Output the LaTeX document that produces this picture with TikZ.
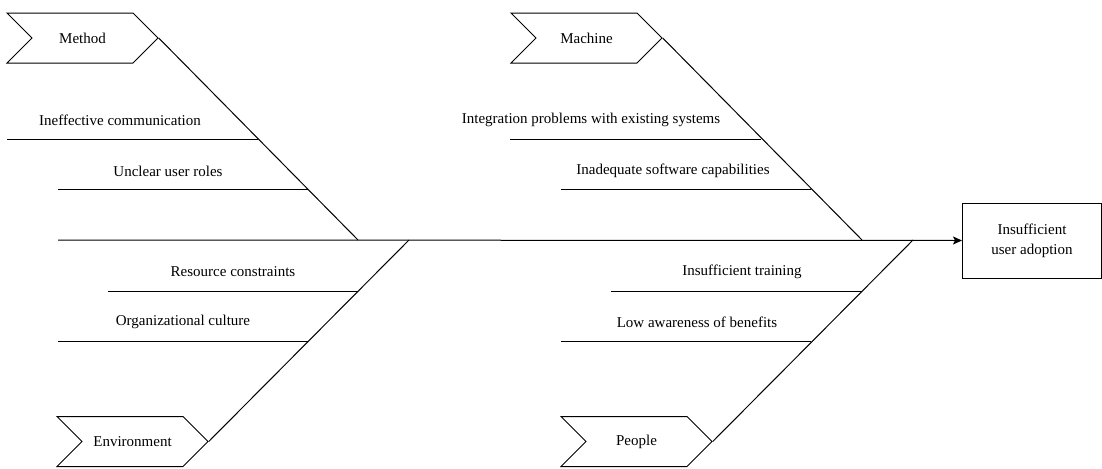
\documentclass[tikz,border=0pt]{standalone}
\usepackage{fontspec}
\setmainfont{Liberation Serif}
\usetikzlibrary{arrows.meta,shapes.symbols}

\begin{document}
\begin{tikzpicture}[x=0.75pt,y=-0.75pt,
    font=\fontsize{11.25}{15}\selectfont,
    line width=0.75pt,
    cat/.style={draw,signal,signal from=west,signal to=east,
      minimum width=113.25pt,minimum height=37.5pt,inner sep=0pt},
    effectbox/.style={draw,minimum width=104.25pt,minimum height=56.25pt,
      align=center,inner sep=0pt},
    lbl/.style={inner sep=0pt},
    arr/.style={-{Stealth[length=6.75pt,width=6pt,inset=1.5pt]}}
  ]
  \useasboundingbox (0,0) rectangle (1102,468);

  % head and spine
  \node[effectbox] (effect) at (1032,240.5) {Insufficient\\user adoption};
  \coordinate (tail) at (58,240);
  \draw[arr] (tail) -- (effect.west);

  % categories
  \node[cat] (method) at (82.5,38) {Method};
  \node[cat] (environment) at (132.5,441.5) {Environment};
  \node[cat] (machine) at (586.5,38) {Machine};
  \node[cat] (people) at (636.5,441.5) {People};

  \coordinate (jmethod) at (358,240);
  \coordinate (jenvironment) at (409,240);
  \coordinate (jmachine) at (862,240);
  \coordinate (jpeople) at (913,240);
  \draw (method.east) -- (jmethod);
  \draw (environment.east) -- (jenvironment);
  \draw (machine.east) -- (jmachine);
  \draw (people.east) -- (jpeople);

  % causes, left half
  \coordinate (a1) at (7,139);   \coordinate (b1) at (258,139);
  \coordinate (a2) at (58,189);  \coordinate (b2) at (308,189);
  \coordinate (a3) at (108,291); \coordinate (b3) at (358,291);
  \coordinate (a4) at (58,341);  \coordinate (b4) at (308,341);
  \draw (a1) -- (b1);
  \draw (a2) -- (b2);
  \draw (a3) -- (b3);
  \draw (a4) -- (b4);
  \node[lbl] (comm) at (120,120) {Ineffective communication};
  \node[lbl] (roles) at (168,171) {Unclear user roles};
  \node[lbl] (resources) at (233,272) {Resource constraints};
  \node[lbl] (culture) at (183,322) {Organizational culture};

  % causes, right half
  \coordinate (a5) at (510,139); \coordinate (b5) at (761,139);
  \coordinate (a6) at (561,189); \coordinate (b6) at (811,189);
  \coordinate (a7) at (611,291); \coordinate (b7) at (862,291);
  \coordinate (a8) at (561,341); \coordinate (b8) at (811,341);
  \draw (a5) -- (b5);
  \draw (a6) -- (b6);
  \draw (a7) -- (b7);
  \draw (a8) -- (b8);
  \node[lbl] (integration) at (591,120) {Integration problems with existing systems};
  \node[lbl] (software) at (673,171) {Inadequate software capabilities};
  \node[lbl] (training) at (742,272) {Insufficient training};
  \node[lbl] (awareness) at (697,322) {Low awareness of benefits};
\end{tikzpicture}
\end{document}
